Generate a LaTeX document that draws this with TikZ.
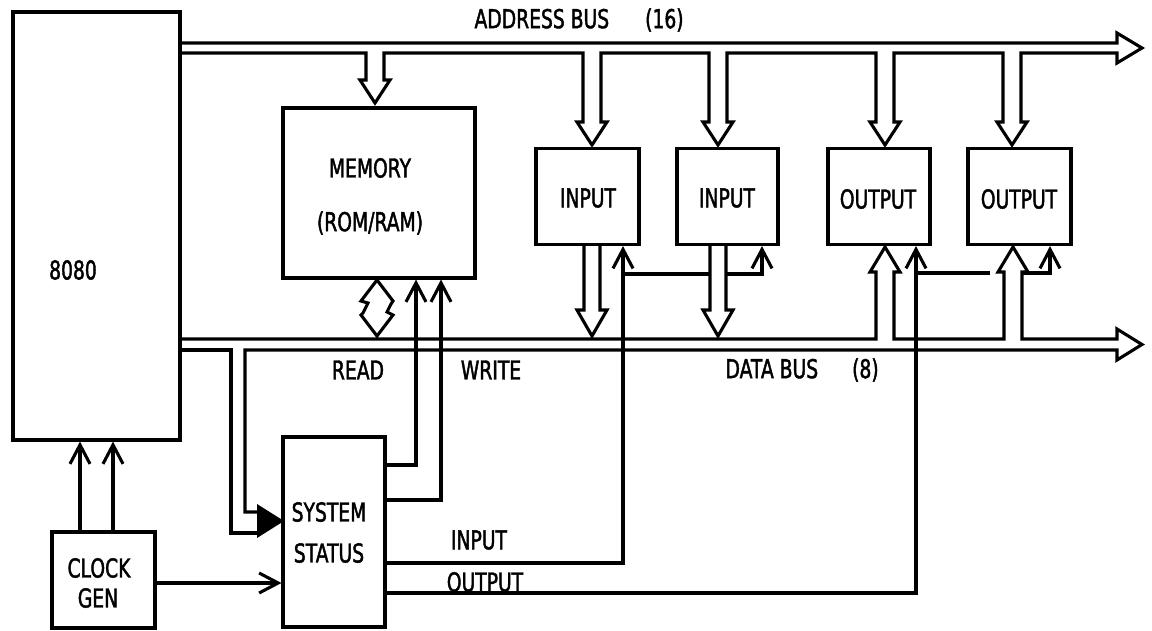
\documentclass[tikz,border=0pt]{standalone}
\usepackage{fontspec}
\newfontfamily\lab[FakeStretch=0.72,FakeBold=1.6]{DejaVu Sans}
\usetikzlibrary{arrows.meta,calc}
\tikzset{
  box/.style={draw, line width=3.1pt, inner sep=0pt},
  lbl/.style={font=\lab\fontsize{26}{30}\selectfont, inner sep=0pt},
  ctl/.style={-{Straight Barb[length=19pt,width=20pt]}},
  bus/.style={line width=3.1pt}
}
\begin{document}
\begin{tikzpicture}[x=1pt,y=-1pt,line width=3.1pt]
\useasboundingbox (0,0) rectangle (1152,630);
% boxes
\node[box, minimum width=167pt, minimum height=428pt] (cpu) at (96.5,226) {};
\node[box, minimum width=192pt, minimum height=170pt] (mem) at (379,193) {};
\node[box, minimum width=103pt, minimum height=96pt] (in1) at (587.5,196.5) {};
\node[box, minimum width=101pt, minimum height=96pt] (in2) at (727.5,196.5) {};
\node[box, minimum width=102pt, minimum height=96pt] (out1) at (879,196.5) {};
\node[box, minimum width=103pt, minimum height=96pt] (out2) at (1019.5,196.5) {};
\node[box, minimum width=102pt, minimum height=190pt] (status) at (334,532) {};
\node[box, minimum width=103pt, minimum height=96pt] (clock) at (103.5,580) {};
% labels
\node[lbl] (tcpu) at (73,270) {8080};
\node[lbl] (tmem1) at (370,168) {MEMORY};
\node[lbl] (tmem2) at (370,223) {(ROM/RAM)};
\node[lbl] (tin1) at (588,198) {INPUT};
\node[lbl] (tin2) at (727,198) {INPUT};
\node[lbl] (tout1) at (878,199) {OUTPUT};
\node[lbl] (tout2) at (1019,199) {OUTPUT};
\node[lbl] (tst1) at (329,512) {SYSTEM};
\node[lbl] (tst2) at (329,553) {STATUS};
\node[lbl] (tck1) at (99,568) {CLOCK};
\node[lbl] (tck2) at (98,598) {GEN};
\node[lbl, anchor=west] (tab) at (473,20) {ADDRESS BUS\hspace{36pt}(16)};
\node[lbl, anchor=west] (tdb) at (724,370) {DATA BUS\hspace{34pt}(8)};
\node[lbl] (tread) at (358,370) {READ};
\node[lbl] (twrite) at (491,370) {WRITE};
\node[lbl] (tinp) at (479,540) {INPUT};
\node[lbl] (toutp) at (485,582) {OUTPUT};
% address bus
\draw[bus] (180,43) -- (1117,43) -- (1117,33) -- (1142,48) -- (1117,63) -- (1117,53)
  -- (1021,53) -- (1021,122) -- (1027,122) -- (1012,145) -- (997,122) -- (1003,122) -- (1003,53)
  -- (894,53) -- (894,122) -- (900,122) -- (885,145) -- (870,122) -- (876,122) -- (876,53)
  -- (727,53) -- (727,122) -- (733,122) -- (718,145) -- (703,122) -- (709,122) -- (709,53)
  -- (601,53) -- (601,122) -- (607,122) -- (592,145) -- (577,122) -- (583,122) -- (583,53)
  -- (384,53) -- (384,80) -- (390,80) -- (375,103) -- (360,80) -- (366,80) -- (366,53)
  -- (180,53);
% data bus
\draw[bus] (180,339) -- (876,339) -- (876,272) -- (870,272) -- (885,247) -- (900,272) -- (894,272) -- (894,339)
  -- (1004,339) -- (1004,272) -- (998,272) -- (1013,247) -- (1028,272) -- (1022,272) -- (1022,339)
  -- (1117,339) -- (1117,329) -- (1142,344.5) -- (1117,360) -- (1117,350)
  -- (245,350) -- (245,512) -- (257,512);
\draw[bus] (257,533) -- (231,533) -- (231,350) -- (180,350);
\fill[line width=1pt] (257,504) -- (284,521) -- (257,538) -- cycle;
% input arrows into data bus
\draw[bus] (584,245) -- (584,310) -- (577,310) -- (592,336) -- (607,310) -- (600,310) -- (600,245);
\draw[bus] (710,245) -- (710,310) -- (703,310) -- (718,336) -- (733,310) -- (726,310) -- (726,245);
% memory bidirectional
\draw[bus] (377,280) -- (361,301) -- (368,303) -- (363,313) -- (361,315) -- (377,336)
  -- (393,315) -- (387,312) -- (391,304) -- (393,301) -- cycle;
% control lines
\coordinate (rdx) at (416,465);
\coordinate (wrx) at (441,500);
\coordinate (inx) at (623,563);
\coordinate (outx) at (916,593);
\coordinate (inb) at (623,274);
\coordinate (in2c) at (762,274);
\coordinate (outb) at (916,273);
\coordinate (o2c) at (1050,273);
\coordinate (ck1) at (80,500);
\coordinate (ck2) at (113,500);
\coordinate (ck3) at (200,583);
\draw[ctl] (status.east |- rdx) -| (mem.south -| rdx);
\draw[ctl] (status.east |- wrx) -| (mem.south -| wrx);
\draw[ctl] (status.east |- inx) -| (in1.south -| inx);
\draw (inb) -- (710,274);
\draw[ctl] (726,274) -| (in2.south -| in2c);
\draw[ctl] (status.east |- outx) -| (out1.south -| outx);
\draw (outb) -- (990,273);
\draw[ctl] (1022,273) -| (out2.south -| o2c);
\draw[ctl] (clock.north -| ck1) -- (cpu.south -| ck1);
\draw[ctl] (clock.north -| ck2) -- (cpu.south -| ck2);
\draw[ctl] (clock.east |- ck3) -- (status.west |- ck3);
\end{tikzpicture}
\end{document}
